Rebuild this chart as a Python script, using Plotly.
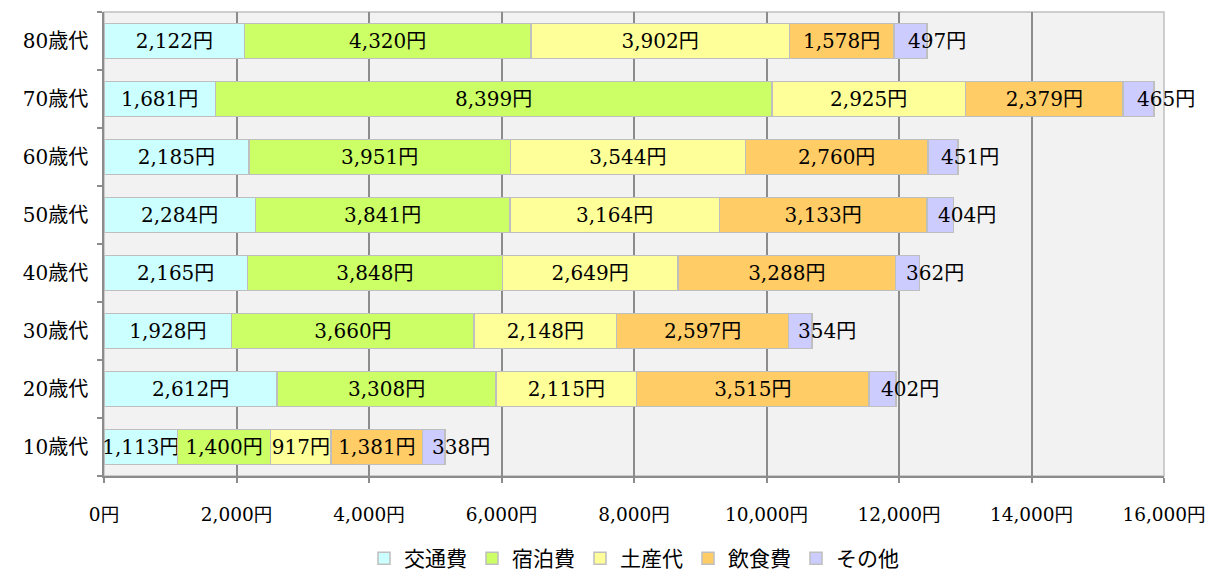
import plotly.graph_objects as go

categories = ["10歳代", "20歳代", "30歳代", "40歳代", "50歳代", "60歳代", "70歳代", "80歳代"]
series_names = ["交通費", "宿泊費", "土産代", "飲食費", "その他"]
kotsuhi = [1113, 2612, 1928, 2165, 2284, 2185, 1681, 2122]
shukuhaku = [1400, 3308, 3660, 3848, 3841, 3951, 8399, 4320]
miyage = [917, 2115, 2148, 2649, 3164, 3544, 2925, 3902]
inshoku = [1381, 3515, 2597, 3288, 3133, 2760, 2379, 1578]
sonota = [338, 402, 354, 362, 404, 451, 465, 497]
colors = ["#CCFFFF", "#CCFF66", "#FFFF99", "#FFCC66", "#CCCCFF"]
x_ticks = [0, 2000, 4000, 6000, 8000, 10000, 12000, 14000, 16000]

FONT = "DejaVu Serif, Noto Sans CJK JP"
FS = 20
all_series = [kotsuhi, shukuhaku, miyage, inshoku, sonota]

fig = go.Figure()
for i, (name, vals, col) in enumerate(zip(series_names, all_series, colors)):
    last = i == len(all_series) - 1
    fig.add_trace(go.Bar(
        y=categories, x=vals, name=name, orientation="h",
        marker=dict(color=col, line=dict(color="#BFBFBF", width=1.5)),
        text=None if last else [f"{v:,}円" for v in vals],
        textposition="inside", insidetextanchor="middle",
        constraintext="none", textangle=0,
        textfont=dict(family=FONT, size=FS, color="#000000"),
        cliponaxis=False,
    ))

# labels for the last segment, starting at its midpoint
annotations = []
for k, cat in enumerate(categories):
    start = sum(s[k] for s in all_series[:-1])
    annotations.append(dict(
        x=start + sonota[k] / 2, y=cat, xref="x", yref="y",
        text=f"{sonota[k]:,}円", showarrow=False, xanchor="left",
        xshift=-4, font=dict(family=FONT, size=FS, color="#000000"),
    ))

fig.update_layout(
    width=1205, height=575,
    margin=dict(l=96, r=49, t=4, b=96),
    barmode="stack", bargap=0.4,
    plot_bgcolor="#F2F2F2", paper_bgcolor="#FFFFFF",
    font=dict(family=FONT, size=FS, color="#000000"),
    annotations=annotations,
    legend=dict(orientation="h", x=0.5, xanchor="center", y=-0.178, yanchor="middle",
                font=dict(family="Noto Sans CJK JP", size=21), itemwidth=30, tracegroupgap=0,
                traceorder="normal"),
    shapes=[dict(type="rect", xref="x domain", yref="y domain", x0=0, x1=1, y0=0, y1=1,
                 line=dict(color="#C0C0C0", width=1.5), layer="below")],
)
fig.update_xaxes(
    range=[0, 16000], tickvals=x_ticks, ticktext=[f"{v:,}円" for v in x_ticks],
    showgrid=True, gridcolor="#8C8C8C", gridwidth=1.5,
    showline=True, linecolor="#8C8C8C", linewidth=1.5,
    ticks="outside", ticklen=5, tickcolor="#8C8C8C", tickwidth=1.5,
    tickfont=dict(family=FONT, size=18.5), zeroline=False, automargin=False,
    ticklabelstandoff=16,
)
fig.update_yaxes(
    categoryorder="array", categoryarray=categories,
    showgrid=False, showline=True, linecolor="#8C8C8C", linewidth=1.5,
    ticks="outside", ticklen=5, tickcolor="#8C8C8C", tickwidth=1.5,
    tickson="boundaries", tickfont=dict(family=FONT, size=FS),
    automargin=False, ticklabelstandoff=10,
)
fig.write_html("out.html")
